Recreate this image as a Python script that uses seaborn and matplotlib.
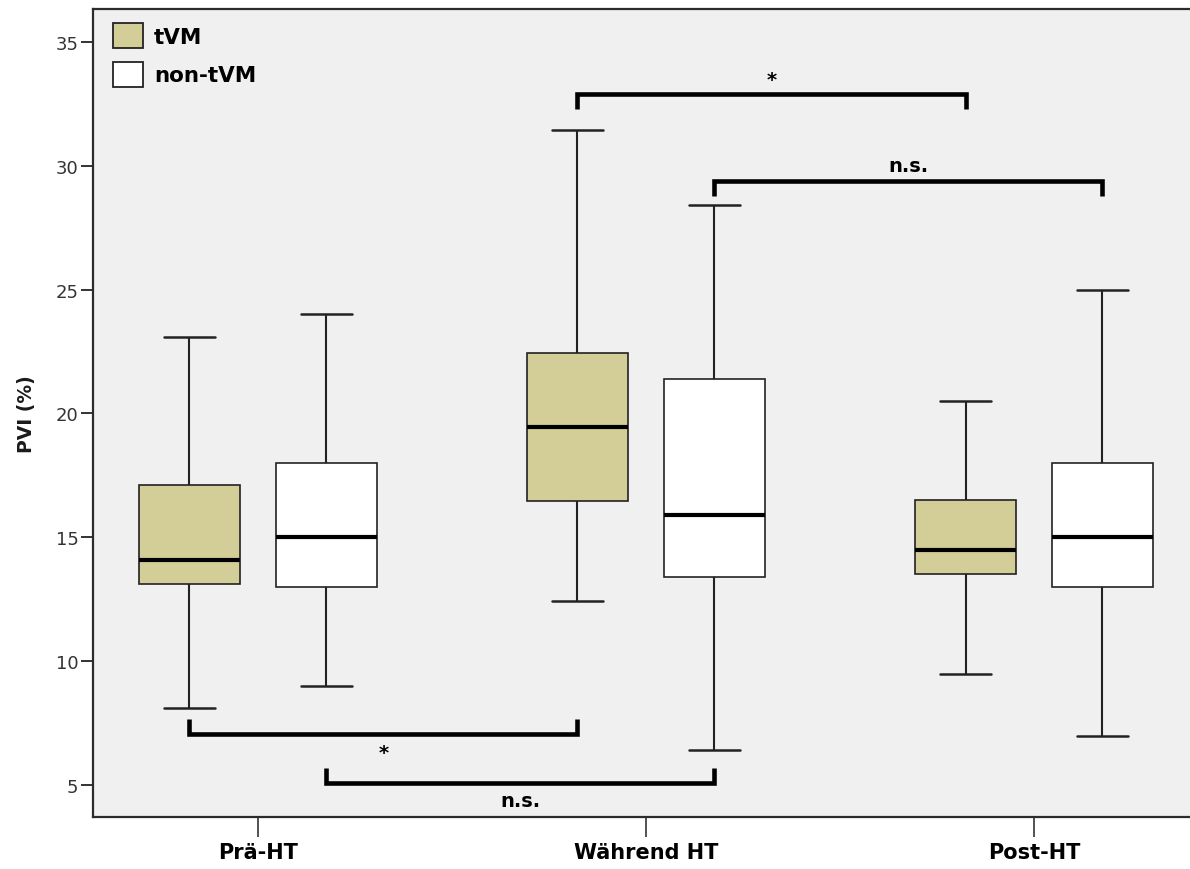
import matplotlib
matplotlib.use("Agg")
import matplotlib.pyplot as plt
from matplotlib.patches import Patch
import seaborn as sns
import pandas as pd

# Five-number summaries (min, Q1, median, Q3, max) of PVI (%) per phase
categories = ["Prä-HT", "Während HT", "Post-HT"]
groups = ["tVM", "non-tVM"]
tvm_summary = [
    [8.1, 13.1, 14.1, 17.1, 23.1],
    [12.45, 16.45, 19.45, 22.45, 31.45],
    [9.5, 13.5, 14.5, 16.5, 20.5],
]
non_tvm_summary = [
    [9.0, 13.0, 15.0, 18.0, 24.0],
    [6.4, 13.4, 15.9, 21.4, 28.4],
    [7.0, 13.0, 15.0, 18.0, 25.0],
]
y_ticks = [5, 10, 15, 20, 25, 30, 35]

# Significance comparisons: (phase A, group A, phase B, group B, label)
comparisons = [
    ("Während HT", "tVM", "Post-HT", "tVM", "*"),
    ("Während HT", "non-tVM", "Post-HT", "non-tVM", "n.s."),
    ("Prä-HT", "tVM", "Während HT", "tVM", "*"),
    ("Prä-HT", "non-tVM", "Während HT", "non-tVM", "n.s."),
]
# bracket level, leg length (signed) and label level for each comparison
bracket_levels = [32.9, 29.4, 7.06, 5.08]
bracket_legs = [-0.62, -0.6, 0.6, 0.62]
label_levels = [33.5, 30.0, 6.3, 4.36]

rows = []
for grp, summaries in zip(groups, [tvm_summary, non_tvm_summary]):
    for cat, vals in zip(categories, summaries):
        for v in vals:
            rows.append({"Phase": cat, "Gruppe": grp, "PVI": v})
df = pd.DataFrame(rows)

sns.set_theme(style="white")
plt.rcParams["font.family"] = ["DejaVu Sans"]

fig = plt.figure(figsize=(11.9, 8.7), dpi=100)
fig.patch.set_facecolor("white")
ax = fig.add_axes([93 / 1190, 1 - 818 / 870, 1 - 93 / 1190, (818 - 9.5) / 870])
ax.set_facecolor("#f0f0f0")

box_color = "#d3ce98"
edge = "#222222"
total_width = 0.706
sns.boxplot(
    data=df, x="Phase", y="PVI", hue="Gruppe", order=categories,
    hue_order=groups, palette={"tVM": box_color, "non-tVM": "white"},
    saturation=1, whis=(0, 100), width=total_width, gap=0.264,
    linecolor=edge, linewidth=1.2, showfliers=False, legend=False,
    medianprops=dict(color="black", linewidth=3.0),
    whiskerprops=dict(linewidth=1.5),
    capprops=dict(linewidth=1.8),
    ax=ax,
)

ax.set_xlim(-0.425, 2.402)
ax.set_ylim(3.71, 36.35)
ax.set_yticks(y_ticks)
ax.set_yticklabels([str(t) for t in y_ticks], fontsize=13, color="#333333")
ax.set_xticks(range(len(categories)))
ax.set_xticklabels(categories, fontsize=15, fontweight="bold", color="black")
ax.tick_params(axis="y", length=9, width=1.4, color="#333333", pad=1.5, left=True)
ax.tick_params(axis="x", length=14.5, width=1.2, color="#333333", pad=3.5, bottom=True)

ax.set_xlabel("")
ax.set_ylabel("PVI (%)", fontsize=13.5, fontweight="bold", color="#1a1a1a")
ax.yaxis.set_label_coords(-0.052, 0.5)

for side in ["left", "bottom", "top"]:
    ax.spines[side].set_visible(True)
    ax.spines[side].set_color("#2b2b2b")
    ax.spines[side].set_linewidth(1.6)
ax.spines["right"].set_visible(False)

# significance brackets
half = total_width / 4
offset = {"tVM": -half, "non-tVM": half}
for (ca, ga, cb, gb, lab), lvl, leg, ly in zip(comparisons, bracket_levels,
                                               bracket_legs, label_levels):
    xa = categories.index(ca) + offset[ga]
    xb = categories.index(cb) + offset[gb]
    ax.plot([xa, xa, xb, xb], [lvl + leg, lvl, lvl, lvl + leg],
            color="black", linewidth=3.3, solid_joinstyle="miter",
            solid_capstyle="butt", zorder=5)
    ax.text((xa + xb) / 2, ly, lab, ha="center", va="center",
            fontsize=14, fontweight="bold", color="black")

handles = [Patch(facecolor=box_color, edgecolor=edge, linewidth=1.3, label="tVM"),
           Patch(facecolor="white", edgecolor=edge, linewidth=1.3, label="non-tVM")]
leg = ax.legend(handles=handles, loc="upper left", frameon=False,
                bbox_to_anchor=(20 / 1097, 1 - 14.5 / 808.5),
                prop={"weight": "bold", "size": 15.5},
                handlelength=1.4, handleheight=1.42, labelspacing=0.63,
                handletextpad=0.5, borderpad=0, borderaxespad=0)
for t in leg.get_texts():
    t.set_color("black")

fig.savefig("out.png", dpi=100, facecolor="white")
